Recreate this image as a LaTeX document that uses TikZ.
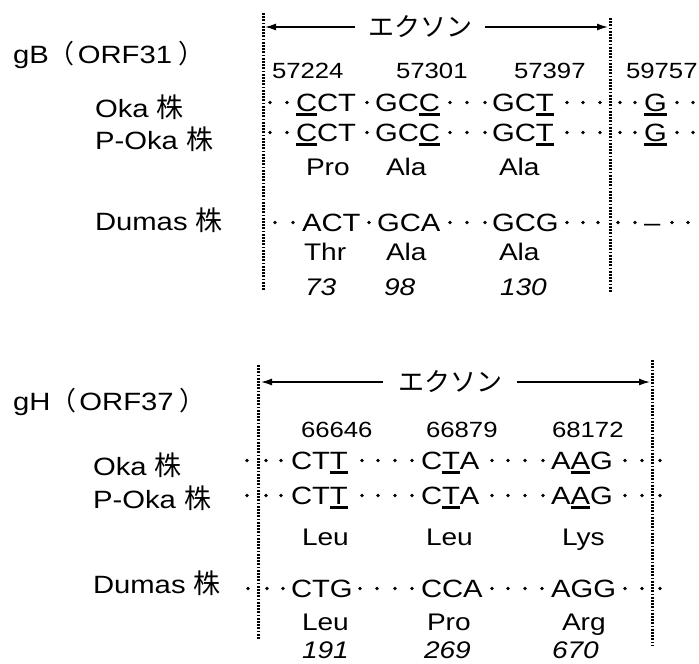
\documentclass[tikz,border=0pt]{standalone}
\usepackage{fontspec}
\setmainfont{Liberation Sans}[FakeStretch=1.17]
\newfontfamily\jpfont{Noto Sans CJK JP}
\usetikzlibrary{arrows.meta}

% underline a single base, drawn a little below the baseline
\newcommand\ulx[1]{\setbox0\hbox{#1}\rlap{\vrule width\wd0 height -2.4pt depth 4.6pt}\box0}
\newcommand\kabu{{\jpfont\fontsize{27}{27}\selectfont 株}}
\newcommand\lpar{{\jpfont\fontsize{26}{26}\selectfont （}}
\newcommand\rpar{{\jpfont\fontsize{26}{26}\selectfont ）}}

\tikzset{
  txt/.style={inner sep=0pt, outer sep=0pt, anchor=base west},
  genetitle/.style={txt, font=\fontsize{25}{25}\selectfont},
  strain/.style={txt, font=\fontsize{25}{25}\selectfont},
  codon/.style={txt, font=\fontsize{25}{25}\selectfont},
  ntpos/.style={txt, font=\fontsize{22}{22}\selectfont},
  amino/.style={txt, font=\fontsize{24}{24}\selectfont},
  resnum/.style={txt, font=\fontsize{24}{24}\selectfont\itshape},
  exon/.style={inner ysep=0pt, font=\jpfont\fontsize{26}{26}\selectfont},
  bound/.style={line width=3pt, dash pattern=on 1.8pt off 1.4pt},
  exonspan/.style={line width=1.4pt, -{Latex[length=11pt,width=7pt]}},
  seqdot/.style={fill=black}
}

\begin{document}
\begin{tikzpicture}[x=1pt,y=-1pt]
\path[fill=white] (0,0) rectangle (699,664);
\useasboundingbox (0,0) rectangle (699,664);

% ===================== gB (ORF31) =====================
\node[genetitle] (tB) at (13,63) {gB\lpar\hspace{3pt}ORF31\hspace{6pt}\rpar};
\node[strain] (sB1) at (95,117) {Oka \kabu};
\node[strain] (sB2) at (95,149) {P-Oka \kabu};
\node[strain] (sB3) at (95,230) {Dumas \kabu};

% exon boundaries
\coordinate (bBlt) at (263,13);  \coordinate (bBlb) at (263,290);
\coordinate (bBrt) at (610,18);  \coordinate (bBrb) at (610,292);
\draw[bound] (bBlt) -- (bBlb);
\draw[bound] (bBrt) -- (bBrb);

% exon span
\node[exon, inner xsep=13pt] (exB) at (420,27) {エクソン};
\coordinate (aBl) at (265,27);
\coordinate (aBr) at (608,27);
\draw[exonspan] (exB.west) -- (aBl);
\draw[exonspan] (exB.east) -- (aBr);

% nucleotide positions
\node[ntpos] (pB1) at (272,78) {57224};
\node[ntpos] (pB2) at (396,78) {57301};
\node[ntpos] (pB3) at (514,78) {57397};
\node[ntpos] (pB4) at (626,78) {59757};

% Oka
\node[codon] (cB11) at (296,111) {\ulx{C}CT};
\node[codon] (cB12) at (375,111) {GC\ulx{C}};
\node[codon] (cB13) at (492,111) {GC\ulx{T}};
\node[codon] (cB14) at (644,111) {\ulx{G}};
\foreach \x in {270,287,367,450,467,485,567,583,600,620,635,677,693}
  \fill[seqdot] (\x,102.5) circle (1.9pt);

% P-Oka
\node[codon] (cB21) at (296,141) {\ulx{C}CT};
\node[codon] (cB22) at (375,141) {GC\ulx{C}};
\node[codon] (cB23) at (492,141) {GC\ulx{T}};
\node[codon] (cB24) at (644,141) {\ulx{G}};
\foreach \x in {270,287,367,450,467,485,567,583,600,620,635,677,693}
  \fill[seqdot] (\x,132.5) circle (1.9pt);

\node[amino] (aB11) at (306,175) {Pro};
\node[amino] (aB12) at (386,175) {Ala};
\node[amino] (aB13) at (499,175) {Ala};

% Dumas
\node[codon] (cB31) at (302,231) {ACT};
\node[codon] (cB32) at (377,231) {GCA};
\node[codon] (cB33) at (492,231) {GCG};
\node[codon] (cB34) at (644,231) {–};
\foreach \x in {275,293,369,450,467,485,567,583,598,618,635,672,688}
  \fill[seqdot] (\x,222.5) circle (1.9pt);

\node[amino] (aB21) at (304,260) {Thr};
\node[amino] (aB22) at (386,260) {Ala};
\node[amino] (aB23) at (499,260) {Ala};

\node[resnum] (rB1) at (305,295) {73};
\node[resnum] (rB2) at (384,295) {98};
\node[resnum] (rB3) at (500,295) {130};

% ===================== gH (ORF37) =====================
\node[genetitle] (tH) at (13,410) {gH\lpar\hspace{3pt}ORF37\hspace{6pt}\rpar};
\node[strain] (sH1) at (93,475) {Oka \kabu};
\node[strain] (sH2) at (93,508) {P-Oka \kabu};
\node[strain] (sH3) at (93,593) {Dumas \kabu};

\coordinate (bHlt) at (258,365); \coordinate (bHlb) at (258,640);
\coordinate (bHrt) at (652,360); \coordinate (bHrb) at (652,645);
\draw[bound] (bHlt) -- (bHlb);
\draw[bound] (bHrt) -- (bHrb);

\node[exon, inner xsep=15pt] (exH) at (450,382) {エクソン};
\coordinate (aHl) at (261,382);
\coordinate (aHr) at (650,382);
\draw[exonspan] (exH.west) -- (aHl);
\draw[exonspan] (exH.east) -- (aHr);

\node[ntpos] (pH1) at (301,437) {66646};
\node[ntpos] (pH2) at (426,437) {66879};
\node[ntpos] (pH3) at (552,437) {68172};

% Oka
\node[codon] (cH11) at (291,469) {CT\ulx{T}};
\node[codon] (cH12) at (421,469) {C\ulx{T}A};
\node[codon] (cH13) at (551,469) {A\ulx{A}G};
\foreach \x in {247,266,281,362,378,395,412,492,508,525,543,625,642,660}
  \fill[seqdot] (\x,460.5) circle (1.9pt);

% P-Oka
\node[codon] (cH21) at (291,504) {CT\ulx{T}};
\node[codon] (cH22) at (421,504) {C\ulx{T}A};
\node[codon] (cH23) at (551,504) {A\ulx{A}G};
\foreach \x in {247,266,281,362,378,395,412,492,508,525,543,625,642,660}
  \fill[seqdot] (\x,495.5) circle (1.9pt);

\node[amino] (aH11) at (302,545) {Leu};
\node[amino] (aH12) at (426,545) {Leu};
\node[amino] (aH13) at (562,545) {Lys};

% Dumas
\node[codon] (cH31) at (291,597) {CTG};
\node[codon] (cH32) at (421,597) {CCA};
\node[codon] (cH33) at (551,597) {AGG};
\foreach \x in {248,267,283,360,377,395,412,492,508,525,542,625,642,660}
  \fill[seqdot] (\x,588.5) circle (1.9pt);

\node[amino] (aH21) at (302,630) {Leu};
\node[amino] (aH22) at (427,630) {Pro};
\node[amino] (aH23) at (562,630) {Arg};

\node[resnum] (rH1) at (302,658) {191};
\node[resnum] (rH2) at (424,658) {269};
\node[resnum] (rH3) at (552,658) {670};
\end{tikzpicture}
\end{document}
